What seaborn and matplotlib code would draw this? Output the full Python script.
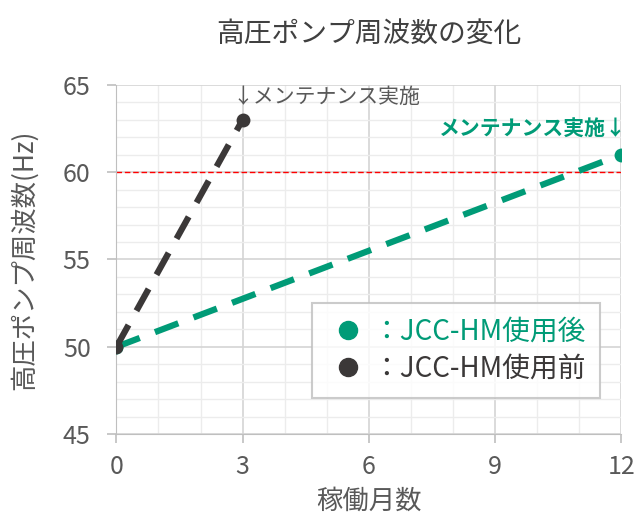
import pandas as pd
import matplotlib.pyplot as plt
import seaborn as sns
from matplotlib.ticker import MultipleLocator
from matplotlib.lines import Line2D

sns.set_style('whitegrid')
plt.rcParams['font.family'] = ['Noto Sans CJK JP', 'DejaVu Sans']

meses_antes = [0, 3]
hz_antes = [50, 63]
meses_despues = [0, 12]
hz_despues = [50, 61]
limite = 60

verde = '#009B77'
negro = '#3B3838'
gris = '#595959'

df_antes = pd.DataFrame({'mes': meses_antes, 'hz': hz_antes})
df_despues = pd.DataFrame({'mes': meses_despues, 'hz': hz_despues})

fig, ax = plt.subplots(figsize=(6.36, 5.2), dpi=100)

ax.axhline(limite, color='red', lw=1, ls=(0, (4, 2)), zorder=2)
sns.lineplot(data=df_despues, x='mes', y='hz', ax=ax, color=verde, lw=4.5,
             ls=(0, (4, 2.6)), marker='o', markersize=10, markeredgewidth=0, zorder=3)
sns.lineplot(data=df_antes, x='mes', y='hz', ax=ax, color=negro, lw=4.5,
             ls=(0, (4, 2.6)), marker='o', markersize=10, markeredgewidth=0, zorder=4)

ax.set_xlim(0, 12)
ax.set_ylim(45, 65)
ax.xaxis.set_major_locator(MultipleLocator(3))
ax.xaxis.set_minor_locator(MultipleLocator(1))
ax.yaxis.set_major_locator(MultipleLocator(5))
ax.yaxis.set_minor_locator(MultipleLocator(1))
ax.grid(which='major', color='#d4d4d4', lw=1.2)
ax.grid(which='minor', color='#ececec', lw=1)
ax.tick_params(axis='both', which='major', labelsize=18, colors='#bfbfbf',
               labelcolor=gris, length=6.5, width=1.2, left=True, bottom=True)
ax.tick_params(axis='x', pad=8)
ax.tick_params(axis='y', pad=12)
for s in ax.spines.values():
    s.set_visible(False)
ax.spines['bottom'].set_visible(True)
ax.spines['bottom'].set_color('#bfbfbf')
ax.spines['left'].set_visible(True)
ax.spines['left'].set_color('#bfbfbf')

ax.annotate('↓メンテナンス実施', xy=(3, 64.3), ha='left', va='center',
            fontsize=15, color=gris, xytext=(-7, 0), textcoords='offset points')
ax.annotate('メンテナンス実施↓', xy=(12, 62.5), ha='right', va='center',
            fontsize=15, color=verde, fontweight='bold', annotation_clip=False,
            xytext=(4, 0), textcoords='offset points')

ax.set_title('高圧ポンプ周波数の変化', fontsize=20, color='#404040', pad=30)
ax.set_xlabel('稼働月数', fontsize=19, color=gris, labelpad=5)
ax.set_ylabel('高圧ポンプ周波数(Hz)', fontsize=19, color=gris, labelpad=18)

handles = [Line2D([], [], ls='', marker='o', color=verde, markersize=13),
           Line2D([], [], ls='', marker='o', color=negro, markersize=13)]
leg = ax.legend(handles, ['：JCC-HM使用後', '：JCC-HM使用前'], loc='lower right',
                bbox_to_anchor=(0.985, 0.065), fontsize=20, frameon=True, fancybox=False,
                handletextpad=0.1, borderpad=0.5, borderaxespad=0.5,
                labelspacing=0.25, handlelength=1.6)
leg.get_frame().set_edgecolor('#bfbfbf')
leg.get_frame().set_linewidth(1.5)
for t, c in zip(leg.get_texts(), [verde, negro]):
    t.set_color(c)

fig.subplots_adjust(left=0.183, right=0.977, top=0.837, bottom=0.165)
fig.savefig('out.png', dpi=100)
